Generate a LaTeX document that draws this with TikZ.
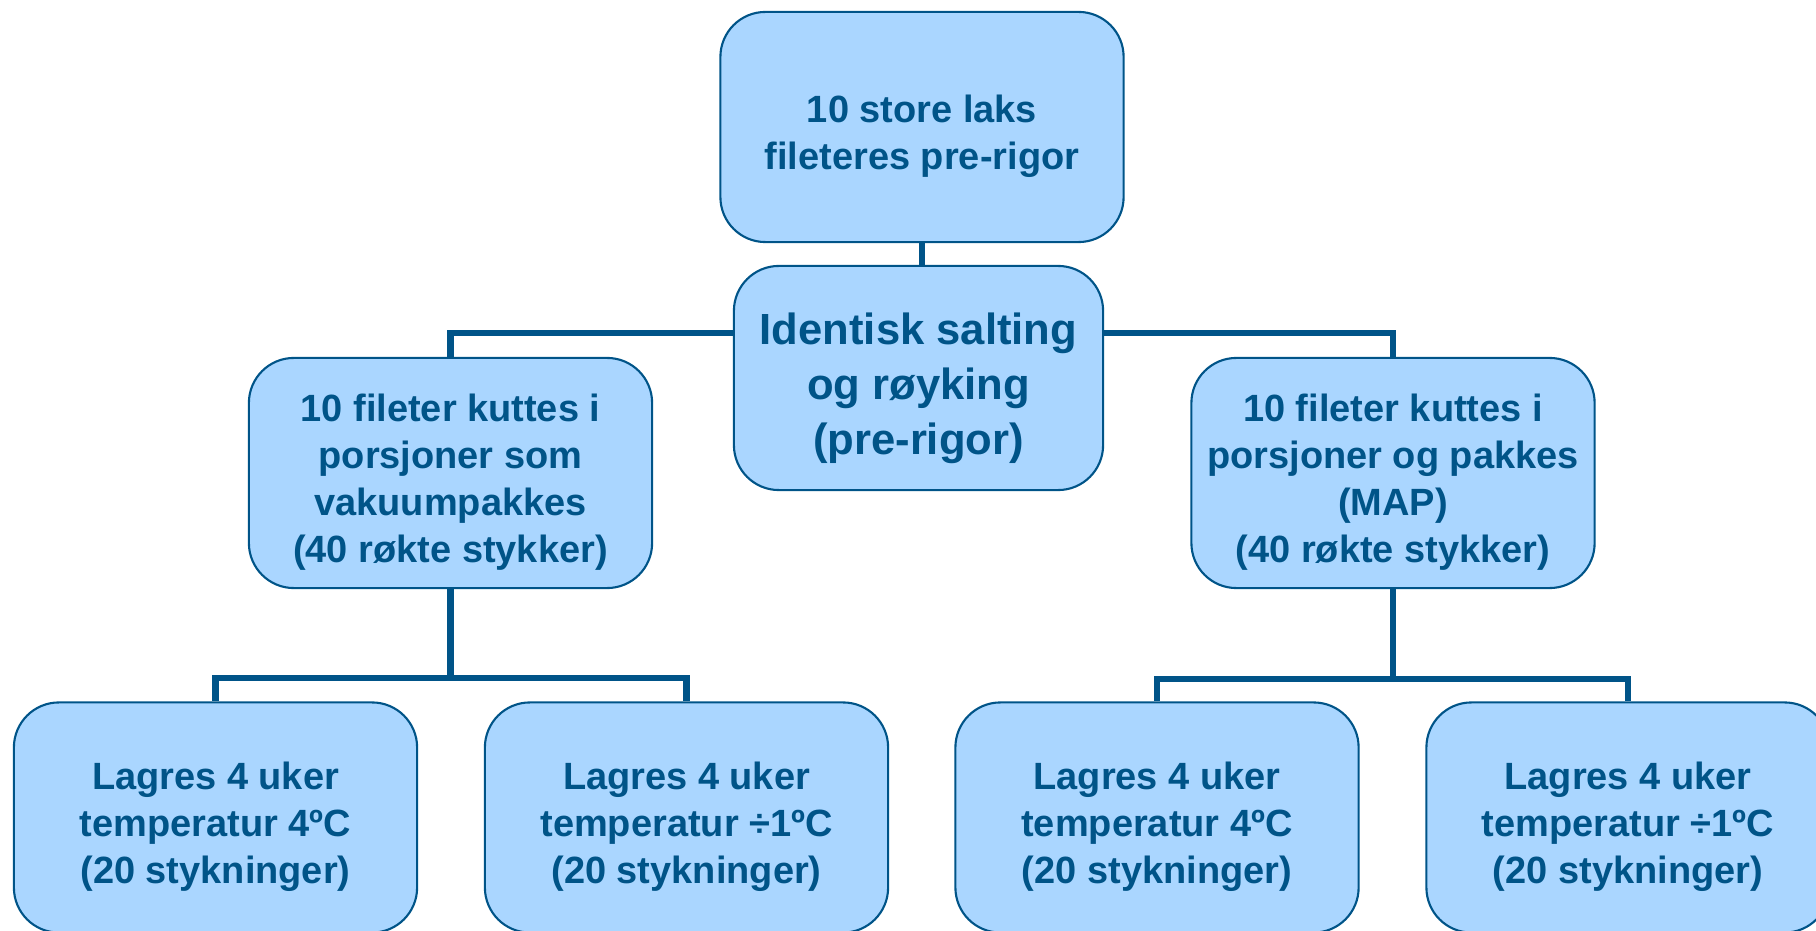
\documentclass[tikz,border=0pt]{standalone}
\usepackage{fontspec}
\setmainfont{Liberation Sans}
\usepackage{tikz}
\usetikzlibrary{positioning,calc}

\definecolor{boxfill}{RGB}{170,214,255}
\definecolor{boxline}{RGB}{0,84,136}
\newcommand\pad{\rule{0pt}{\dimexpr\ht\strutbox+1.4pt\relax}}

\begin{document}
\begin{tikzpicture}[x=0.01cm,y=-0.01cm,
  box/.style={rectangle,rounded corners=0.45cm,draw=boxline,line width=0.6pt,fill=boxfill,text=boxline,
    font=\bfseries\fontsize{10.8}{13.4}\selectfont,align=center,minimum width=4.03cm,minimum height=2.3cm,inner sep=0pt,
    text depth=0pt},
  bigbox/.style={box,font=\bfseries\fontsize{12.4}{15.7}\selectfont,minimum width=3.69cm,minimum height=2.24cm},
  conn/.style={draw=boxline,line width=1.8pt}]
\useasboundingbox (0,0) rectangle (1816,931);
\clip (0,0) rectangle (1816,931);

\node(laks)[box] at (922,127) {\pad 10 store laks\\fileteres pre-rigor};
\node(salt)[bigbox] at (918.5,378) {\pad Identisk salting\\og røyking\\(pre-rigor)};
\node(vak)[box] at (450.5,473) {\pad 10 fileter kuttes i\\porsjoner som\\vakuumpakkes\\(40 røkte stykker)};
\node(map)[box] at (1393,473) {\pad 10 fileter kuttes i\\porsjoner og pakkes\\(MAP)\\(40 røkte stykker)};
\node(v4)[box] at (215.5,817.5) {\pad Lagres 4 uker\\temperatur 4ºC\\(20 stykninger)};
\node(v1)[box] at (686.5,817.5) {\pad Lagres 4 uker\\temperatur ÷1ºC\\(20 stykninger)};
\node(m4)[box] at (1157,817.5) {\pad Lagres 4 uker\\temperatur 4ºC\\(20 stykninger)};
\node(m1)[box] at (1628,817.5) {\pad Lagres 4 uker\\temperatur ÷1ºC\\(20 stykninger)};

% branches
\coordinate (vj) at (vak.south |- 0,678);
\coordinate (mj) at (map.south |- 0,679);
\draw [conn] (laks.south -| 922,0) -- (salt.north -| 922,0);
\draw [conn] ([yshift=0.45cm]salt.west) -| (vak.north);
\draw [conn] ([yshift=0.45cm]salt.east) -| (map.north);
\draw [conn] (vak.south) -- (vj) -| (v4.north);
\draw [conn] (vj) -| (v1.north);
\draw [conn] (map.south) -- (mj) -| (m4.north);
\draw [conn] (mj) -| (m1.north);
\end{tikzpicture}
\end{document}
